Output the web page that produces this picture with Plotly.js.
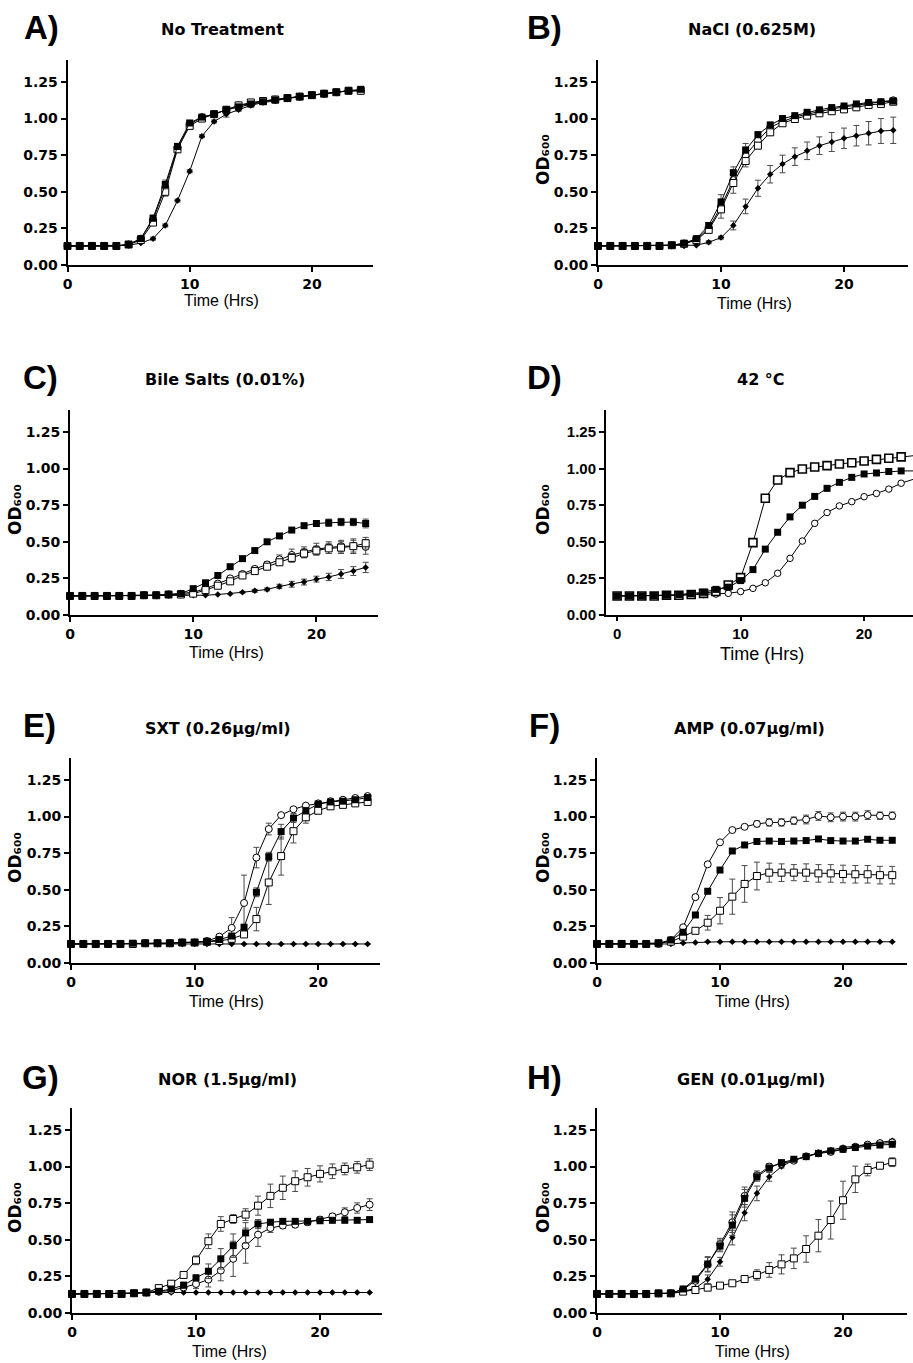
<!DOCTYPE html>
<html>
<head>
<meta charset="utf-8">
<script src="https://cdn.plot.ly/plotly-3.0.1.min.js"></script>
<style>html,body{margin:0;padding:0;background:#fff;}#chart{width:913px;height:1363px;}</style>
</head>
<body>
<div id="chart"></div>
<script>
// ---------- DATA ----------
const hours = [0,1,2,3,4,5,6,7,8,9,10,11,12,13,14,15,16,17,18,19,20,21,22,23,24];

const panelLetters = ["A)","B)","C)","D)","E)","F)","G)","H)"];
const panelTitles = ["No Treatment","NaCl (0.625M)","Bile Salts (0.01%)","42 °C","SXT (0.26µg/ml)","AMP (0.07µg/ml)","NOR (1.5µg/ml)","GEN (0.01µg/ml)"];
const xTickVals = [0,10,20];
const yTickVals = [0,0.25,0.5,0.75,1.0,1.25];
const xLabel = "Time (Hrs)";
const yLabel = "OD₆₀₀";

// Panel A – No Treatment
const A_fillSq = [0.13,0.13,0.13,0.13,0.13,0.14,0.18,0.32,0.55,0.81,0.97,1.01,1.03,1.06,1.08,1.10,1.115,1.127,1.138,1.15,1.16,1.17,1.18,1.19,1.20];
const A_openSq = [0.13,0.13,0.13,0.13,0.13,0.14,0.17,0.29,0.50,0.79,0.95,1.00,1.03,1.06,1.09,1.11,1.12,1.13,1.14,1.15,1.16,1.17,1.18,1.19,1.19];
const A_openCi = [0.13,0.13,0.13,0.13,0.13,0.14,0.18,0.31,0.53,0.80,0.96,1.01,1.03,1.06,1.09,1.10,1.12,1.13,1.14,1.15,1.16,1.17,1.18,1.19,1.19];
const A_diam   = [0.13,0.13,0.13,0.13,0.13,0.135,0.15,0.18,0.27,0.44,0.64,0.88,0.98,1.03,1.06,1.09,1.11,1.12,1.14,1.15,1.16,1.17,1.18,1.19,1.19];
const A_fillSq_err = [0,0,0,0,0,0,0.01,0.02,0.03,0.02,0.01,0.01,0.01,0.01,0.01,0.01,0.01,0.01,0.01,0.01,0.01,0.01,0.01,0.01,0.01];
const A_openSq_err = [0,0,0,0,0,0,0.01,0.02,0.03,0.02,0.01,0.01,0.01,0.01,0.01,0.01,0.01,0.01,0.01,0.01,0.01,0.01,0.01,0.01,0.01];
const A_openCi_err = [0,0,0,0,0,0,0.01,0.02,0.03,0.02,0.01,0.01,0.01,0.01,0.01,0.01,0.01,0.01,0.01,0.01,0.01,0.01,0.01,0.01,0.01];
const A_diam_err   = [0,0,0,0,0,0,0,0.01,0.01,0.01,0.01,0.01,0.01,0.02,0.01,0.01,0.01,0.01,0.01,0.01,0.01,0.01,0.01,0.01,0.01];

// Panel B – NaCl
const B_fillSq = [0.13,0.13,0.13,0.13,0.13,0.13,0.135,0.148,0.18,0.27,0.43,0.63,0.785,0.89,0.956,1.0,1.02,1.043,1.06,1.075,1.086,1.10,1.11,1.115,1.12];
const B_openSq = [0.13,0.13,0.13,0.13,0.13,0.13,0.135,0.145,0.17,0.24,0.38,0.56,0.71,0.815,0.906,0.968,0.997,1.02,1.036,1.05,1.063,1.077,1.093,1.10,1.115];
const B_openCi = [0.13,0.13,0.13,0.13,0.13,0.13,0.135,0.147,0.175,0.25,0.40,0.58,0.75,0.85,0.94,0.98,1.01,1.03,1.05,1.065,1.08,1.09,1.10,1.11,1.125];
const B_diam   = [0.13,0.13,0.13,0.13,0.13,0.13,0.13,0.13,0.135,0.155,0.187,0.27,0.40,0.524,0.62,0.69,0.74,0.78,0.815,0.84,0.865,0.883,0.90,0.915,0.92];
const B_fillSq_err = [0,0,0,0,0,0,0,0.01,0.01,0.02,0.02,0.02,0.02,0.02,0.02,0.01,0.01,0.01,0.01,0.01,0.01,0.01,0.01,0.01,0.01];
const B_openSq_err = [0,0,0,0,0,0,0,0.01,0.01,0.02,0.02,0.02,0.02,0.02,0.02,0.01,0.01,0.01,0.01,0.01,0.01,0.01,0.01,0.01,0.01];
const B_openCi_err = [0,0,0,0,0,0,0,0.01,0.01,0.02,0.08,0.09,0.08,0.05,0.03,0.02,0.01,0.01,0.01,0.01,0.01,0.01,0.01,0.01,0.01];
const B_diam_err   = [0,0,0,0,0,0,0,0,0,0.01,0.01,0.03,0.05,0.055,0.06,0.06,0.06,0.06,0.06,0.065,0.07,0.07,0.08,0.085,0.09];

// Panel C – Bile salts
const C_fillSq = [0.13,0.13,0.13,0.13,0.13,0.13,0.135,0.135,0.14,0.146,0.18,0.22,0.27,0.33,0.385,0.44,0.50,0.54,0.58,0.61,0.625,0.63,0.635,0.635,0.625];
const C_openSq = [0.13,0.13,0.13,0.13,0.13,0.13,0.135,0.135,0.14,0.14,0.146,0.17,0.20,0.23,0.27,0.30,0.33,0.36,0.39,0.42,0.44,0.455,0.46,0.47,0.49];
const C_openCi = [0.13,0.13,0.13,0.13,0.13,0.13,0.135,0.135,0.14,0.145,0.155,0.18,0.215,0.25,0.28,0.315,0.345,0.38,0.41,0.43,0.45,0.46,0.47,0.47,0.465];
const C_diam   = [0.13,0.13,0.13,0.13,0.13,0.13,0.13,0.13,0.135,0.135,0.135,0.135,0.14,0.145,0.155,0.165,0.175,0.195,0.21,0.225,0.245,0.26,0.28,0.30,0.325];
const C_fillSq_err = [0,0,0,0,0,0,0,0,0,0,0.01,0.01,0.01,0.01,0.01,0.01,0.01,0.01,0.01,0.015,0.02,0.025,0.025,0.025,0.03];
const C_openSq_err = [0,0,0,0,0,0,0,0,0,0,0.01,0.01,0.01,0.01,0.01,0.015,0.02,0.02,0.03,0.03,0.03,0.035,0.04,0.04,0.04];
const C_openCi_err = [0,0,0,0,0,0,0,0,0,0,0.01,0.01,0.01,0.01,0.01,0.015,0.02,0.03,0.04,0.035,0.04,0.04,0.04,0.05,0.05];
const C_diam_err   = [0,0,0,0,0,0,0,0,0,0,0,0,0,0,0.005,0.01,0.01,0.015,0.02,0.02,0.02,0.025,0.03,0.03,0.035];

// Panel D – 42 °C
const D_fillSq = [0.13,0.13,0.13,0.133,0.135,0.14,0.145,0.155,0.175,0.19,0.235,0.31,0.45,0.565,0.67,0.75,0.81,0.865,0.906,0.94,0.963,0.97,0.98,0.984,0.984];
const D_openSq = [0.13,0.13,0.13,0.13,0.135,0.135,0.14,0.148,0.16,0.205,0.255,0.494,0.797,0.922,0.972,0.997,1.011,1.02,1.031,1.04,1.052,1.063,1.07,1.08,1.088];
const D_openCi = [0.13,0.13,0.13,0.13,0.133,0.135,0.138,0.14,0.143,0.148,0.16,0.182,0.22,0.285,0.387,0.505,0.626,0.70,0.745,0.774,0.808,0.83,0.86,0.90,0.927];

// Panel E – SXT
const E_fillSq = [0.13,0.13,0.13,0.13,0.13,0.135,0.135,0.135,0.135,0.14,0.14,0.145,0.16,0.184,0.244,0.483,0.726,0.897,0.99,1.04,1.085,1.10,1.105,1.115,1.13];
const E_openSq = [0.13,0.13,0.13,0.13,0.13,0.13,0.135,0.135,0.135,0.14,0.14,0.145,0.15,0.165,0.195,0.30,0.55,0.73,0.90,0.995,1.04,1.07,1.08,1.09,1.10];
const E_openCi = [0.13,0.13,0.13,0.13,0.13,0.13,0.135,0.135,0.135,0.14,0.14,0.15,0.18,0.24,0.41,0.72,0.915,1.01,1.05,1.075,1.09,1.105,1.115,1.127,1.14];
const E_diam   = [0.13,0.13,0.13,0.13,0.13,0.13,0.13,0.13,0.13,0.13,0.13,0.13,0.13,0.13,0.13,0.13,0.13,0.13,0.13,0.13,0.13,0.13,0.13,0.13,0.13];
const E_fillSq_err = [0,0,0,0,0,0,0,0,0,0,0,0,0.01,0.01,0.02,0.03,0.03,0.05,0.03,0.02,0.01,0.01,0.01,0.01,0.01];
const E_openSq_err = [0,0,0,0,0,0,0,0,0,0,0,0,0.01,0.01,0.02,0.08,0.15,0.13,0.08,0.04,0.02,0.01,0.01,0.01,0.01];
const E_openCi_err = [0,0,0,0,0,0,0,0,0,0,0,0,0.01,0.07,0.19,0.07,0.04,0.01,0.01,0.01,0.01,0.01,0.01,0.01,0.01];
const E_diam_err   = [0,0,0,0,0,0,0,0,0,0,0,0,0,0,0,0,0,0,0,0,0,0,0,0,0];

// Panel F – AMP
const F_fillSq = [0.13,0.13,0.13,0.13,0.13,0.135,0.157,0.21,0.328,0.49,0.635,0.765,0.806,0.83,0.833,0.83,0.833,0.836,0.847,0.836,0.833,0.833,0.845,0.838,0.838];
const F_openSq = [0.13,0.13,0.13,0.13,0.13,0.135,0.146,0.18,0.22,0.275,0.357,0.453,0.54,0.594,0.617,0.617,0.617,0.617,0.612,0.612,0.608,0.606,0.606,0.60,0.60];
const F_openCi = [0.13,0.13,0.13,0.13,0.13,0.13,0.157,0.244,0.45,0.674,0.824,0.908,0.93,0.95,0.96,0.96,0.972,0.98,1.004,0.995,1.0,1.0,1.01,1.006,1.006];
const F_diam   = [0.13,0.13,0.13,0.13,0.13,0.13,0.13,0.137,0.14,0.145,0.145,0.145,0.145,0.145,0.145,0.145,0.145,0.145,0.145,0.145,0.145,0.145,0.145,0.145,0.145];
const F_fillSq_err = [0,0,0,0,0,0,0.005,0.01,0.01,0.01,0.01,0.01,0.01,0.01,0.01,0.01,0.01,0.01,0.01,0.01,0.01,0.01,0.01,0.01,0.01];
const F_openSq_err = [0,0,0,0,0,0,0.01,0.01,0.02,0.05,0.09,0.12,0.125,0.095,0.065,0.06,0.055,0.06,0.06,0.06,0.06,0.06,0.06,0.06,0.06];
const F_openCi_err = [0,0,0,0,0,0,0.005,0.01,0.01,0.01,0.01,0.01,0.01,0.02,0.025,0.025,0.025,0.03,0.03,0.03,0.03,0.03,0.03,0.025,0.025];
const F_diam_err   = [0,0,0,0,0,0,0,0,0,0,0,0,0,0,0,0,0,0,0,0,0,0,0,0,0];

// Panel G – NOR
const G_fillSq = [0.13,0.13,0.13,0.13,0.13,0.135,0.14,0.148,0.164,0.19,0.24,0.285,0.37,0.46,0.547,0.608,0.62,0.626,0.626,0.626,0.63,0.633,0.633,0.633,0.638];
const G_openSq = [0.13,0.13,0.13,0.13,0.13,0.135,0.14,0.17,0.20,0.26,0.36,0.49,0.608,0.642,0.672,0.733,0.80,0.855,0.90,0.927,0.95,0.968,0.984,0.995,1.013];
const G_openCi = [0.13,0.13,0.13,0.13,0.13,0.135,0.14,0.145,0.153,0.175,0.198,0.228,0.29,0.37,0.46,0.535,0.58,0.597,0.603,0.62,0.638,0.66,0.688,0.717,0.74];
const G_diam   = [0.13,0.13,0.13,0.13,0.13,0.135,0.14,0.14,0.14,0.14,0.14,0.14,0.14,0.14,0.14,0.14,0.14,0.14,0.14,0.14,0.14,0.14,0.14,0.14,0.14];
const G_fillSq_err = [0,0,0,0,0,0,0,0.01,0.01,0.02,0.02,0.05,0.07,0.08,0.07,0.03,0.01,0.01,0.01,0.01,0.01,0.01,0.01,0.01,0.01];
const G_openSq_err = [0,0,0,0,0,0,0,0.01,0.01,0.02,0.03,0.05,0.05,0.03,0.04,0.065,0.08,0.08,0.07,0.06,0.055,0.05,0.04,0.04,0.04];
const G_openCi_err = [0,0,0,0,0,0,0,0.01,0.01,0.02,0.03,0.05,0.07,0.12,0.12,0.08,0.03,0.02,0.02,0.02,0.02,0.02,0.03,0.035,0.04];
const G_diam_err   = [0,0,0,0,0,0,0,0,0,0,0,0,0,0,0,0,0,0,0,0,0,0,0,0,0];

// Panel H – GEN
const H_fillSq = [0.13,0.13,0.13,0.13,0.13,0.134,0.134,0.164,0.232,0.335,0.458,0.60,0.783,0.93,0.99,1.027,1.05,1.068,1.09,1.107,1.118,1.13,1.14,1.147,1.152];
const H_openSq = [0.13,0.13,0.13,0.13,0.13,0.134,0.134,0.146,0.157,0.173,0.187,0.203,0.232,0.26,0.294,0.332,0.373,0.437,0.528,0.635,0.77,0.913,0.977,1.006,1.03];
const H_openCi = [0.13,0.13,0.13,0.13,0.13,0.134,0.136,0.16,0.22,0.33,0.47,0.62,0.80,0.94,1.0,1.02,1.04,1.07,1.09,1.10,1.12,1.135,1.15,1.16,1.165];
const H_diam   = [0.13,0.13,0.13,0.13,0.13,0.134,0.134,0.146,0.17,0.23,0.35,0.515,0.685,0.817,0.93,1.0,1.045,1.068,1.095,1.113,1.13,1.14,1.154,1.166,1.177];
const H_fillSq_err = [0,0,0,0,0,0,0,0.01,0.02,0.05,0.04,0.07,0.06,0.03,0.02,0.01,0.01,0.01,0.01,0.01,0.01,0.01,0.01,0.01,0.01];
const H_openSq_err = [0,0,0,0,0,0,0,0.01,0.01,0.01,0.01,0.01,0.02,0.035,0.05,0.065,0.07,0.09,0.11,0.13,0.13,0.09,0.04,0.02,0.03];
const H_openCi_err = [0,0,0,0,0,0,0,0.01,0.02,0.05,0.04,0.07,0.06,0.03,0.02,0.01,0.01,0.01,0.01,0.01,0.01,0.01,0.01,0.01,0.01];
const H_diam_err   = [0,0,0,0,0,0,0,0.01,0.01,0.03,0.03,0.05,0.055,0.05,0.03,0.01,0.01,0.01,0.01,0.01,0.01,0.01,0.01,0.01,0.01];

// ---------- LAYOUT GEOMETRY (pixels) ----------
const W = 913, H = 1363;
const px = v => v / W;
const py = v => 1 - v / H;

const geo = [
  {x:[67.5,373], y:[60,265],   xr:[0,25]},
  {x:[598,908],  y:[60,265],   xr:[0,25.2]},
  {x:[70,378],   y:[410,615],  xr:[0,25]},
  {x:[606,913],  y:[410,615],  xr:[-0.9,23.96]},
  {x:[71,380],   y:[758,963],  xr:[0,25]},
  {x:[597,907],  y:[758,963],  xr:[0,25.2]},
  {x:[72,382],   y:[1108,1313],xr:[0,25]},
  {x:[597,907],  y:[1108,1313],xr:[0,25.2]}
];

const letterPos = [[41,27],[544,27],[40,377],[544,377],[39,725],[544,725],[40,1077],[544,1077]];
const titlePos  = [[222,30],[752,30],[225,379],[761,379],[218,728],[749,728],[227,1079],[751,1079]];
const xlabPos   = [[221,301],[754,303],[226,652],[762,654],[226,1001],[752,1001],[229,1351],[752,1351]];
const ylabPos   = [null,[543,160],[15,510],[543,510],[15,858],[543,858],[15,1208],[543,1208]];

const series = [
  [[A_diam,A_diam_err],[A_openCi,A_openCi_err],[A_openSq,A_openSq_err],[A_fillSq,A_fillSq_err]],
  [[B_diam,B_diam_err],[B_openCi,B_openCi_err],[B_openSq,B_openSq_err],[B_fillSq,B_fillSq_err]],
  [[C_diam,C_diam_err],[C_openCi,C_openCi_err],[C_openSq,C_openSq_err],[C_fillSq,C_fillSq_err]],
  [null,[D_openCi,null],[D_openSq,null],[D_fillSq,null]],
  [[E_diam,E_diam_err],[E_openCi,E_openCi_err],[E_openSq,E_openSq_err],[E_fillSq,E_fillSq_err]],
  [[F_diam,F_diam_err],[F_openCi,F_openCi_err],[F_openSq,F_openSq_err],[F_fillSq,F_fillSq_err]],
  [[G_diam,G_diam_err],[G_openCi,G_openCi_err],[G_openSq,G_openSq_err],[G_fillSq,G_fillSq_err]],
  [[H_diam,H_diam_err],[H_openCi,H_openCi_err],[H_openSq,H_openSq_err],[H_fillSq,H_fillSq_err]]
];

function markerStyle(kind, isD){
  if (kind === 0) return {symbol:'diamond', size:5, color:'#000', line:{width:0}};
  if (kind === 1) return {symbol:'circle', size: isD ? 6.5 : 7, color:'#fff', line:{color:'#000', width:1}};
  if (kind === 2) return {symbol:'square', size: isD ? 8 : 7, color:'#fff', line:{color:'#000', width: isD ? 1.6 : 1}};
  return {symbol:'square', size:7, color:'#000', line:{width:0}};
}

const traces = [];
const layout = {
  width: W, height: H,
  margin:{l:0,r:0,t:0,b:0},
  paper_bgcolor:'#fff', plot_bgcolor:'rgba(0,0,0,0)',
  showlegend:false,
  annotations:[]
};

const boldTick = {family:'DejaVu Sans', size:14, weight:'bold', color:'#000'};
const boldTickD = {family:'Liberation Sans', size:15, weight:'bold', color:'#000'};

geo.forEach((g, i) => {
  const n = i === 0 ? '' : String(i+1);
  const isD = i === 3;
  layout['xaxis'+n] = {
    domain:[px(g.x[0]), px(g.x[1])], range:g.xr, anchor:'y'+n,
    tickvals:xTickVals, ticks:'outside', ticklen: isD ? 4 : 5, tickwidth:2, tickcolor:'#000',
    showline:true, linewidth:2, linecolor:'#000', showgrid:false, zeroline:false,
    tickfont: isD ? boldTickD : boldTick, fixedrange:true, layer:'below traces'
  };
  layout['yaxis'+n] = {
    domain:[py(g.y[1]), py(g.y[0])], range:[0,1.4], anchor:'x'+n,
    tickvals:yTickVals, tickformat:'.2f', ticks:'outside', ticklen:5, tickwidth:2, tickcolor:'#000',
    showline:true, linewidth:2, linecolor:'#000', showgrid:false, zeroline:false,
    tickfont: isD ? boldTickD : boldTick, fixedrange:true, layer:'below traces'
  };
  series[i].forEach((s, k) => {
    if (!s) return;
    const tr = {
      x: hours, y: s[0], xaxis:'x'+n, yaxis:'y'+n, type:'scatter', mode:'lines+markers',
      line:{color:'#000', width:1}, marker:markerStyle(k, isD), cliponaxis:false, hoverinfo:'skip'
    };
    if (s[1]) tr.error_y = {type:'data', array:s[1], visible:true, color:'#4a4a4a', thickness:1, width:3};
    traces.push(tr);
  });
  layout.annotations.push({xref:'paper', yref:'paper', x:px(letterPos[i][0]), y:py(letterPos[i][1]),
    xanchor:'center', yanchor:'middle', showarrow:false, text:panelLetters[i],
    font:{family:'Liberation Sans', size:33, weight:'bold', color:'#000'}});
  layout.annotations.push({xref:'paper', yref:'paper', x:px(titlePos[i][0]), y:py(titlePos[i][1]),
    xanchor:'center', yanchor:'middle', showarrow:false, text:panelTitles[i],
    font:{family:'DejaVu Sans', size:16, weight:'bold', color:'#000'}});
  layout.annotations.push({xref:'paper', yref:'paper', x:px(xlabPos[i][0]), y:py(xlabPos[i][1]),
    xanchor:'center', yanchor:'middle', showarrow:false, text:xLabel,
    font:{family:'Liberation Sans', size: isD ? 18 : 16, color:'#000'}});
  if (ylabPos[i]) {
    layout.annotations.push({xref:'paper', yref:'paper', x:px(ylabPos[i][0]), y:py(ylabPos[i][1]),
      xanchor:'center', yanchor:'middle', showarrow:false, text:yLabel, textangle:-90,
      font:{family:'DejaVu Sans', size:17, weight:'bold', color:'#000'}});
  }
});

Plotly.newPlot('chart', traces, layout, {staticPlot:true, displayModeBar:false});
</script>
</body>
</html>
